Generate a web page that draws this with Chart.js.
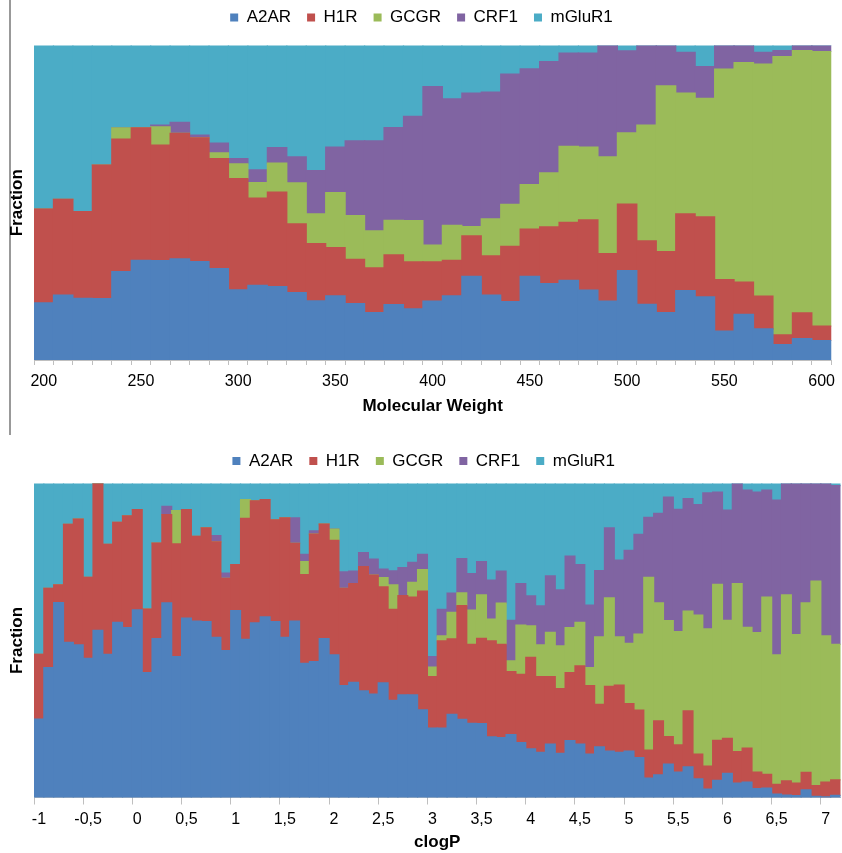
<!DOCTYPE html>
<html>
<head>
<meta charset="utf-8">
<title>Fraction by Molecular Weight and clogP</title>
<script src="https://cdn.jsdelivr.net/npm/chart.js@4.4.1/dist/chart.umd.min.js"></script>
<style>
  body { margin: 0; background: #fff; }
  #wrap { position: relative; width: 842px; height: 853px; }
  #sep { position: absolute; left: 9px; top: 0; height: 435px; border-left: 2px solid #999; }
  canvas { position: absolute; left: 0; }
  #mwChart { top: 0; }
  #clogpChart { top: 440px; }
</style>
</head>
<body>
<div id="wrap">
  <div id="sep"></div>
  <canvas id="mwChart" width="842" height="435"></canvas>
  <canvas id="clogpChart" width="842" height="413"></canvas>
</div>
<script>
/************************************************************
 * DATA (fractions in %)
 ************************************************************/
const seriesNames = ["A2AR", "H1R", "GCGR", "CRF1", "mGluR1"];
const seriesColors = ["#4F81BD", "#C0504D", "#9BBB59", "#8064A2", "#4BACC6"];

// Molecular weight bins
const mwBins = [200, 210, 220, 230, 240, 250, 260, 270, 280, 290,
  300, 310, 320, 330, 340, 350, 360, 370, 380, 390,
  400, 410, 420, 430, 440, 450, 460, 470, 480, 490,
  500, 510, 520, 530, 540, 550, 560, 570, 580, 590, 600];
const mwTicks = ["200", "250", "300", "350", "400", "450", "500", "550", "600"];

const mwA2AR = [18.2, 20.6, 19.6, 19.5, 28.1, 31.7, 31.6, 32.2, 31.3, 29.1,
  22.3, 23.7, 23.3, 21.4, 18.8, 20.4, 17.9, 15.1, 17.6, 16.3,
  18.7, 20.4, 26.6, 20.6, 18.6, 26.6, 24.3, 25.3, 22.2, 18.7,
  28.4, 17.7, 15.1, 22.1, 20.1, 9.2, 14.5, 9.9, 4.9, 6.8, 6.2];
const mwH1R = [29.8, 30.5, 27.6, 42.5, 42.1, 42.1, 36.7, 39.9, 39.3, 34.9,
  35.4, 27.8, 30.1, 21.9, 18.2, 15.3, 14.1, 14.2, 15.8, 14.9,
  12.5, 11.3, 12.9, 12.5, 17.5, 15.0, 18.0, 18.5, 22.4, 15.1,
  21.2, 20.2, 19.4, 24.4, 25.4, 16.4, 10.3, 10.4, 3.1, 8.2, 4.6];
const mwGCGR = [0, 0, 0, 0, 3.6, 0, 5.8, 0, 0, 1.9,
  4.7, 4.9, 9.2, 13.0, 9.5, 17.5, 13.9, 11.8, 11.0, 13.1,
  5.3, 11.1, 2.9, 11.8, 13.4, 14.2, 17.2, 24.1, 23.1, 30.8,
  22.6, 36.8, 52.7, 38.4, 37.7, 66.9, 69.8, 73.8, 88.5, 83.4, 87.3];
const mwCRF1 = [0, 0, 0, 0, 0, 0, 0.6, 3.5, 0.9, 3.1,
  1.6, 4.1, 4.9, 8.3, 13.7, 14.5, 23.8, 28.6, 29.5, 33.2,
  50.4, 40.2, 42.5, 40.3, 41.4, 36.8, 35.4, 29.7, 29.9, 35.4,
  26.1, 25.3, 12.8, 12.9, 10.1, 7.5, 5.4, 3.7, 1.9, 1.6, 1.9];
const mwMGluR1 = [52.0, 48.9, 52.8, 38.0, 26.2, 26.2, 25.3, 24.4, 28.5, 31.0,
  36.0, 39.5, 32.5, 35.4, 39.8, 32.3, 30.3, 30.3, 26.1, 22.5,
  13.1, 17.0, 15.1, 14.8, 9.1, 7.4, 5.1, 2.4, 2.4, 0,
  1.7, 0, 0, 2.2, 6.7, 0, 0, 2.2, 1.6, 0, 0];

// clogP bins
const clogpBins = [-1.0, -0.9, -0.8, -0.7, -0.6, -0.5, -0.4, -0.3, -0.2, -0.1,
  0.0, 0.1, 0.2, 0.3, 0.4, 0.5, 0.6, 0.7, 0.8, 0.9,
  1.0, 1.1, 1.2, 1.3, 1.4, 1.5, 1.6, 1.7, 1.8, 1.9,
  2.0, 2.1, 2.2, 2.3, 2.4, 2.5, 2.6, 2.7, 2.8, 2.9,
  3.0, 3.1, 3.2, 3.3, 3.4, 3.5, 3.6, 3.7, 3.8, 3.9,
  4.0, 4.1, 4.2, 4.3, 4.4, 4.5, 4.6, 4.7, 4.8, 4.9,
  5.0, 5.1, 5.2, 5.3, 5.4, 5.5, 5.6, 5.7, 5.8, 5.9,
  6.0, 6.1, 6.2, 6.3, 6.4, 6.5, 6.6, 6.7, 6.8, 6.9,
  7.0, 7.1];
const clogpTicks = ["-1", "-0,5", "0", "0,5", "1", "1,5", "2", "2,5", "3",
  "3,5", "4", "4,5", "5", "5,5", "6", "6,5", "7"];

const lpA2AR = [25.0, 41.4, 62.1, 49.4, 48.6, 44.3, 53.2, 45.6, 55.8, 54.1,
  59.8, 39.8, 50.6, 62.0, 44.9, 57.1, 56.2, 56.0, 51.0, 46.8,
  59.5, 50.4, 55.6, 57.5, 56.0, 51.0, 56.2, 42.7, 43.3, 50.6,
  45.4, 35.6, 36.7, 34.0, 32.9, 36.5, 30.9, 32.7, 32.7, 27.9,
  22.1, 22.1, 26.5, 24.9, 23.6, 23.5, 19.3, 19.1, 20.0, 17.5,
  15.5, 14.4, 17.0, 14.1, 18.1, 17.0, 13.8, 16.1, 14.8, 14.4,
  14.8, 12.7, 6.2, 7.2, 10.6, 8.1, 9.8, 5.9, 2.7, 5.5,
  7.7, 4.6, 4.9, 2.8, 3.0, 1.1, 0.8, 0.6, 2.4, 0.4,
  0.2, 0.7];
const lpH1R = [20.6, 25.2, 5.6, 37.6, 40.1, 25.8, 46.8, 35.0, 31.8, 35.6,
  31.9, 20.2, 30.4, 28.1, 35.9, 34.6, 27.0, 29.9, 30.4, 23.0,
  14.7, 38.5, 38.9, 37.4, 32.4, 38.1, 24.7, 28.3, 40.6, 36.5,
  36.5, 31.0, 31.4, 39.5, 37.9, 30.6, 29.0, 31.6, 31.1, 37.8,
  16.4, 27.8, 24.0, 36.2, 25.2, 27.2, 30.6, 29.7, 20.1, 21.7,
  29.1, 24.1, 21.5, 20.6, 21.7, 24.9, 21.8, 13.6, 20.6, 21.4,
  15.1, 15.1, 8.9, 17.2, 8.8, 8.7, 17.8, 7.9, 7.3, 12.7,
  11.1, 10.0, 10.8, 5.3, 4.4, 3.1, 4.5, 4.0, 5.6, 3.4,
  4.7, 4.9];
const lpGCGR = [0, 0, 0, 0, 0, 0, 0, 0, 0, 0,
  0, 0, 0, 0, 10.6, 0, 0, 0, 0, 0,
  0, 6.0, 0, 0, 0, 0, 0, 4.1, 0, 0,
  3.6, 0, 0, 0, 0, 2.9, 7.8, 0, 4.7, 6.9,
  3.0, 1.6, 8.5, 4.1, 10.9, 13.8, 6.9, 13.1, 3.4, 15.7,
  10.1, 10.1, 14.1, 13.6, 14.3, 13.9, 5.8, 21.5, 28.2, 15.4,
  19.2, 24.2, 55.0, 37.6, 36.9, 36.0, 31.8, 44.3, 43.7, 49.7,
  37.6, 53.5, 38.5, 44.4, 56.4, 41.2, 59.2, 47.3, 54.0, 65.1,
  46.6, 43.2];
const lpCRF1 = [0, 0, 0, 0, 0, 0, 0, 0, 0, 0,
  0, 0, 0, 2.6, 0, 0, 0, 0, 2.0, 1.7,
  0, 0, 0, 0, 0, 0, 8.2, 2.3, 1.0, 0,
  0, 5.3, 4.0, 4.5, 5.1, 2.7, 4.5, 8.9, 6.4, 4.8,
  3.4, 8.4, 6.1, 10.9, 11.6, 10.6, 12.4, 10.2, 12.9, 13.2,
  9.5, 12.4, 18.0, 17.8, 22.8, 18.4, 19.9, 21.1, 22.3, 24.4,
  29.6, 31.8, 19.1, 28.5, 39.4, 39.0, 35.8, 35.2, 43.3, 29.4,
  35.1, 31.9, 43.7, 44.8, 34.1, 49.3, 35.5, 48.1, 38.0, 31.1,
  48.5, 50.5];
const lpMGluR1 = [54.4, 33.4, 32.3, 13.0, 11.3, 29.9, 0, 19.4, 12.4, 10.3,
  8.3, 40.0, 19.0, 7.3, 8.6, 8.3, 16.8, 14.1, 16.6, 28.5,
  25.8, 5.1, 5.5, 5.1, 11.6, 10.9, 10.9, 22.6, 15.1, 12.9,
  14.5, 28.1, 27.9, 22.0, 24.1, 27.3, 27.8, 26.8, 25.1, 22.6,
  55.1, 40.1, 34.9, 23.9, 28.7, 24.9, 30.8, 27.9, 43.6, 31.9,
  35.8, 39.0, 29.4, 33.9, 23.1, 25.8, 38.7, 27.7, 14.1, 24.4,
  21.3, 16.2, 10.8, 9.5, 4.3, 8.2, 4.8, 6.7, 3.0, 2.7,
  8.5, 0, 2.1, 2.7, 2.1, 5.3, 0, 0, 0, 0,
  0, 0.7];

/************************************************************
 * HELPERS
 ************************************************************/
Chart.defaults.font.family = '"Liberation Sans", Arial, sans-serif';
Chart.defaults.color = "#000";

function makeDatasets(seriesData) {
  return seriesData.map((data, i) => ({
    label: seriesNames[i],
    data,
    backgroundColor: seriesColors[i],
    borderWidth: 0,
    barPercentage: 1,
    categoryPercentage: 1,
    inflateAmount: 0.6, // hides the hairline seams between bins
  }));
}

// trims the legend block so the plot sits close under it
function legendHeight(h) {
  return {
    id: "legendHeight",
    beforeInit(chart) {
      const origFit = chart.legend.fit;
      chart.legend.fit = function () {
        origFit.call(this);
        this.height = h;
      };
    },
  };
}

function buildOptions(cfg) {
  return {
    responsive: false,
    animation: false,
    devicePixelRatio: 1,
    layout: { padding: cfg.padding },
    plugins: {
      legend: {
        position: "top",
        labels: {
          boxWidth: 8,
          boxHeight: 8,
          padding: 16,
          color: "#000",
          font: { size: 17 },
        },
      },
      tooltip: { enabled: false },
    },
    scales: {
      x: {
        stacked: true,
        grid: {
          offset: true,
          drawOnChartArea: false,
          drawTicks: true,
          tickLength: cfg.tickLength,
          tickColor: cfg.tickColor,
        },
        border: { display: true, color: "#bfbfbf" },
        ticks: {
          autoSkip: false,
          maxRotation: 0,
          minRotation: 0,
          padding: cfg.tickPad,
          color: "#000",
          font: { size: 16 },
          callback: (v, i) => (i % 5 === 0 ? cfg.tickLabels[i / 5] : ""),
        },
        title: {
          display: true,
          text: cfg.xTitle,
          color: "#000",
          padding: 0,
          font: { size: 17, weight: "bold" },
        },
        afterFit(s) {
          s.height = cfg.axisHeight;
        },
      },
      y: {
        stacked: true,
        min: 0,
        max: 100,
        ticks: { display: false },
        grid: { display: false },
        border: { display: false },
        title: {
          display: true,
          text: "Fraction",
          color: "#000",
          padding: 0,
          font: { size: 17, weight: "bold" },
        },
        afterFit(s) {
          s.width = 27;
        },
      },
    },
  };
}

/************************************************************
 * CHARTS
 ************************************************************/
new Chart(document.getElementById("mwChart"), {
  type: "bar",
  data: {
    labels: mwBins,
    datasets: makeDatasets([mwA2AR, mwH1R, mwGCGR, mwCRF1, mwMGluR1]),
  },
  options: buildOptions({
    padding: { top: -7, left: 7, right: 6, bottom: 18 },
    tickLength: 5,
    tickPad: 7,
    tickColor: "#bfbfbf",
    tickLabels: mwTicks,
    xTitle: "Molecular Weight",
    axisHeight: 57,
  }),
  plugins: [legendHeight(52.5)],
});

new Chart(document.getElementById("clogpChart"), {
  type: "bar",
  data: {
    labels: clogpBins,
    datasets: makeDatasets([lpA2AR, lpH1R, lpGCGR, lpCRF1, lpMGluR1]),
  },
  options: buildOptions({
    padding: { top: -3.5, left: 7, right: 1.5, bottom: 0 },
    tickLength: 7,
    tickPad: 5,
    tickColor: (c) => (c.index % 5 === 0 ? "#bfbfbf" : "rgba(0,0,0,0)"),
    tickLabels: clogpTicks,
    xTitle: "clogP",
    axisHeight: 55.5,
  }),
  plugins: [legendHeight(47)],
});
</script>
</body>
</html>
